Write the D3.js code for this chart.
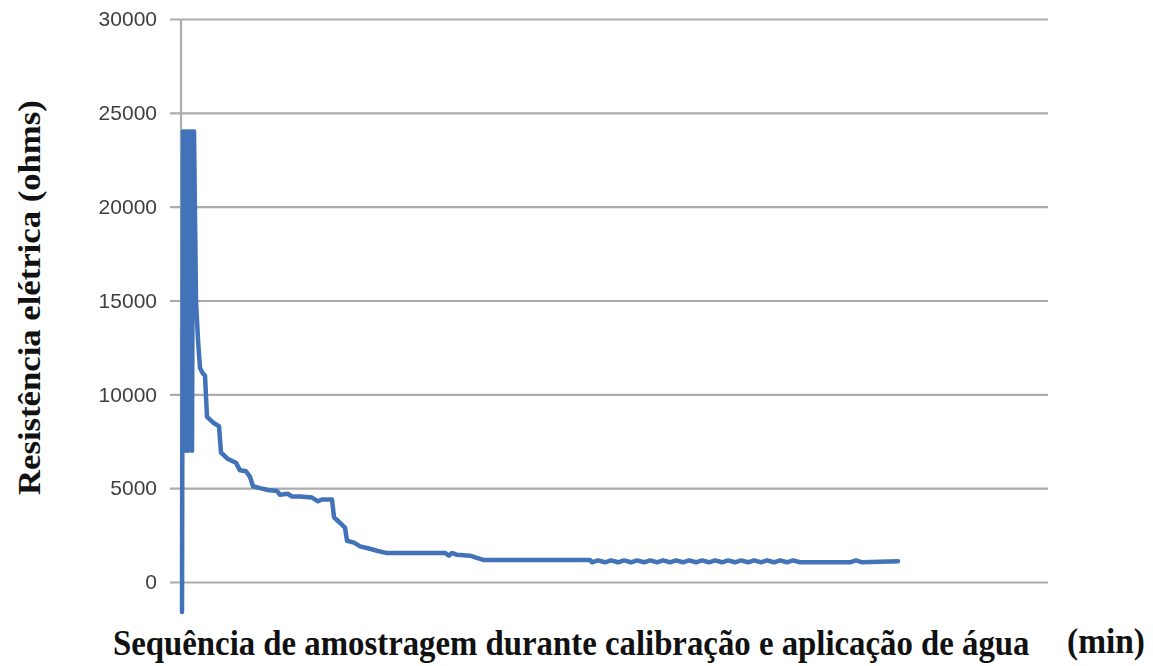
<!DOCTYPE html>
<html>
<head>
<meta charset="utf-8">
<script src="https://cdn.jsdelivr.net/npm/d3@7"></script>
<style>
  html, body { margin: 0; padding: 0; background: #ffffff; }
  svg { display: block; }
</style>
</head>
<body>
<svg id="chart" width="1153" height="666"></svg>
<script>
// Sample index along the measurement sequence
const sampleIndex = [
  1, 2, 3, 4, 5, 6, 7, 8, 9, 10, 11, 12, 13,
  15, 17, 19, 22, 24, 26, 32, 38, 40, 47, 55, 59, 65, 69, 72, 79, 87,
  96, 99, 107, 111, 119, 131, 137, 141, 151, 153, 159, 164, 166, 173,
  179, 187, 197, 205, 264, 268, 271, 276, 289, 295, 303, 409,
  411, 417, 424, 430, 437, 443, 450, 456, 463, 469, 476, 482, 489, 495,
  502, 508, 515, 521, 528, 534, 541, 547, 554, 560, 567, 573, 580, 586,
  593, 599, 606, 612, 619, 624, 669, 675, 681, 717
];

// Electrical resistance readings (ohms)
const resistance = [
  -1600, 24000, 7000, 24000, 7000, 24000, 7000, 24000, 7100, 24000, 7000, 24000, 24000,
  15000, 12900, 11400, 11100, 11000, 8800, 8500, 8300, 6900, 6550, 6350, 5950, 5900, 5600, 5100, 5000, 4900,
  4850, 4650, 4700, 4550, 4550, 4500, 4300, 4400, 4400, 3450, 3150, 2900, 2200, 2100,
  1900, 1800, 1650, 1550, 1550, 1400, 1550, 1450, 1400, 1300, 1170, 1170,
  1050, 1150, 1050, 1150, 1050, 1150, 1050, 1150, 1050, 1150, 1050, 1150, 1050, 1150,
  1050, 1150, 1050, 1150, 1050, 1150, 1050, 1150, 1050, 1150, 1050, 1150, 1050, 1150,
  1050, 1150, 1050, 1150, 1050, 1050, 1050, 1150, 1050, 1100
];

const yTicks = [0, 5000, 10000, 15000, 20000, 25000, 30000];
const sampleCount = 867;

const yTitle = "Resistência elétrica (ohms)";
const xTitle = "Sequência de amostragem durante calibração e aplicação de água";
const xUnit = "(min)";

const svg = d3.select("#chart");

const plot = { left: 181, right: 1048, top: 19, bottom: 582 };

const x = d3.scaleLinear().domain([0, sampleCount]).range([plot.left, plot.right]);
const y = d3.scaleLinear().domain([0, 30000]).range([plot.bottom, plot.top]);

// Slight softening, in user space so thin horizontal/vertical lines keep rendering
const soft = svg.append("defs").append("filter").attr("id", "soft")
  .attr("filterUnits", "userSpaceOnUse")
  .attr("x", -400).attr("y", -100).attr("width", 2000).attr("height", 900);
soft.append("feGaussianBlur").attr("stdDeviation", 0.5);

// Horizontal gridlines with outward tick stubs
const yAxis = d3.axisLeft(y)
  .tickValues(yTicks)
  .tickSize(-(plot.right - plot.left))
  .tickFormat(d => String(d))
  .tickPadding(24);

const gy = svg.append("g")
  .attr("transform", `translate(${plot.left},0)`)
  .call(yAxis);

gy.select(".domain").remove();
gy.selectAll(".tick line")
  .attr("x1", -11)
  .attr("stroke", "#ababab")
  .attr("stroke-width", 2.2)
  .attr("filter", "url(#soft)");
gy.selectAll(".tick text")
  .attr("font-family", "'Liberation Sans', Arial, sans-serif")
  .attr("font-size", 21)
  .attr("fill", "#404040")
  .attr("filter", "url(#soft)");

// Vertical axis line
svg.append("line")
  .attr("x1", plot.left).attr("x2", plot.left)
  .attr("y1", plot.top).attr("y2", plot.bottom)
  .attr("stroke", "#ababab")
  .attr("stroke-width", 2.2)
  .attr("filter", "url(#soft)");

// Resistance series
const points = sampleIndex.map((s, i) => [s, resistance[i]]);
const line = d3.line().x(d => x(d[0])).y(d => y(d[1]));

svg.append("path")
  .datum(points)
  .attr("d", line)
  .attr("fill", "none")
  .attr("stroke", "#4272b8")
  .attr("stroke-width", 4.5)
  .attr("stroke-linejoin", "round")
  .attr("stroke-linecap", "round")
  .attr("filter", "url(#soft)");

// Axis titles: bold serif, horizontally condensed to a target length
function fittedTitle(label, size, tx, ty, rotate, targetWidth) {
  const g = svg.append("g");
  const t = g.append("text")
    .attr("font-family", "'Liberation Serif', 'Times New Roman', serif")
    .attr("font-weight", "bold")
    .attr("font-size", size)
    .attr("fill", "#111")
    .text(label);
  const w = t.node().getComputedTextLength();
  const sx = targetWidth / w;
  g.attr("transform", `translate(${tx},${ty}) rotate(${rotate}) scale(${sx},1)`);
  return g;
}

fittedTitle(yTitle, 31, 40, 495, -90, 395);
fittedTitle(xTitle, 35, 113, 655, 0, 917);
fittedTitle(xUnit, 35, 1067, 653, 0, 78);
</script>
</body>
</html>
